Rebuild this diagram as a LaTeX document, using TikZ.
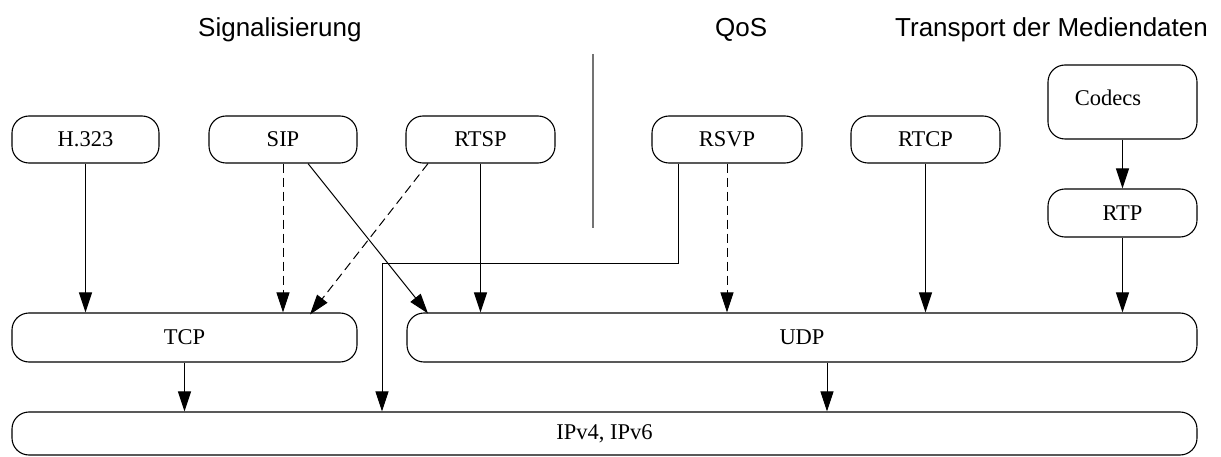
\documentclass[tikz,border=0pt]{standalone}
\usepackage{fontspec}
\setmainfont{Liberation Serif}
\newfontfamily\headfont{Liberation Sans}
\usetikzlibrary{arrows.meta,calc}
\begin{document}
\begin{tikzpicture}[x=1pt,y=-1pt,
  box/.style={draw,rounded corners=17pt,line width=1.1pt,inner sep=0pt,
    font=\fontsize{22.5}{26}\selectfont},
  head/.style={anchor=base west,inner sep=0pt,font=\headfont\fontsize{26}{30}\selectfont},
  conn/.style={line width=1pt,-{Triangle[length=20pt,width=13pt]}},
  dconn/.style={conn,dash pattern=on 9pt off 5pt}]
\useasboundingbox (0,0) rectangle (1221,457);
% headings
\node[head] (hsig) at (198,37) {Signalisierung};
\node[head] (hqos) at (715,37) {QoS};
\node[head] (htr) at (895,37) {Transport der Mediendaten};
% separator
\draw[line width=2pt,color=black!55] (593,54) -- (593,228);
% top row
\node[box,minimum width=147pt,minimum height=47pt] (h323) at (85.5,139.5) {H.323};
\node[box,minimum width=148pt,minimum height=47pt] (sip) at (283,139.5) {SIP};
\node[box,minimum width=149pt,minimum height=47pt] (rtsp) at (480.5,139.5) {RTSP};
\node[box,minimum width=150pt,minimum height=47pt] (rsvp) at (727,139.5) {RSVP};
\node[box,minimum width=149pt,minimum height=47pt] (rtcp) at (925.5,139.5) {RTCP};
\node[box,minimum width=149pt,minimum height=74pt] (codecs) at (1122.5,102) {};
\node[font=\fontsize{22.5}{26}\selectfont,inner sep=0pt] (codecstxt) at (1108,98) {Codecs};
\node[box,minimum width=149pt,minimum height=48pt] (rtp) at (1122.5,213) {RTP};
% middle row
\node[box,minimum width=345pt,minimum height=49pt] (tcp) at (184.5,337.5) {TCP};
\node[box,minimum width=790pt,minimum height=49pt] (udp) at (802,337.5) {UDP};
% bottom
\node[box,minimum width=1185pt,minimum height=43pt] (ip) at (604.5,433.5) {IPv4, IPv6};
% connectors
\draw[conn] (h323.south) -- (h323.south |- tcp.north);
\draw[dconn] (sip.south) -- (sip.south |- tcp.north);
\draw[conn] ([xshift=25pt]sip.south) -- ([xshift=-374pt,yshift=-1pt]udp.north);
\draw[dconn] ([xshift=-52.5pt]rtsp.south) -- ([xshift=125.5pt,yshift=-2pt]tcp.north);
\draw[conn] (rtsp.south) -- (rtsp.south |- udp.north);
\coordinate (bend) at (382,263);
\draw[conn] ([xshift=-49pt]rsvp.south) |- (bend) -- (bend |- ip.north);
\draw[dconn] (rsvp.south) -- (rsvp.south |- udp.north);
\draw[conn] (rtcp.south) -- (rtcp.south |- udp.north);
\draw[conn] (codecs.south) -- (rtp.north);
\draw[conn] (rtp.south) -- (rtp.south |- udp.north);
\draw[conn] (tcp.south) -- (tcp.south |- ip.north);
\draw[conn] ([xshift=25pt]udp.south) -- ([xshift=25pt]udp.south |- ip.north);
\end{tikzpicture}
\end{document}
